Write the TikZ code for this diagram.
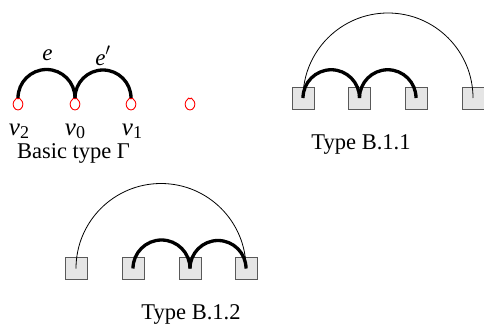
\documentclass[tikz,border=0pt]{standalone}
\usepackage{fontspec}
\setmainfont{Liberation Serif}
\newcommand{\vsub}[1]{\textit{v}\raisebox{-3pt}{\fontsize{18}{20}\selectfont #1}}
\begin{document}
\begin{tikzpicture}[x=1pt,y=1pt,
  box/.style={draw=black!65, fill=black!10, minimum size=22pt, inner sep=0pt, line width=0.8pt},
  heavy/.style={line width=3.3pt},
  light/.style={line width=0.8pt},
  caption/.style={font=\fontsize{22.5}{26}\selectfont, anchor=base, inner sep=0pt},
  mlabel/.style={font=\fontsize{25}{28}\selectfont, anchor=base, inner sep=0pt},
  elabel/.style={font=\fontsize{23}{26}\selectfont, anchor=base, inner sep=0pt},
  redv/.pic={\draw[red, line width=0.9pt, line join=round]
      (0,5) -- (-1.3,6) -- (-4.2,2.6)
      .. controls (-6,-0.5) and (-4,-6) .. (0,-6)
      .. controls (4,-6) and (6,-0.5) .. (4.2,2.6) -- (1.3,6) -- cycle;}]
\useasboundingbox (0,0) rectangle (484,-325);

% basic type: three vertices and a spare one
\foreach \n/\x in {v2/18, v0/75, v1/131, vx/190} {
  \coordinate (\n) at (\x,-104);
  \coordinate (\n-top) at (\x,-98);
  \pic at (\n) {redv};
}
\draw[heavy] (v2-top) arc[start angle=180, end angle=0, radius=28.5pt];
\draw[heavy] (v0-top) arc[start angle=180, end angle=0, radius=28pt];
\node[elabel] (le) at (47.5,-60) {\textit{e}};
\node[elabel] (lep) at (103,-65) {\textit{e}$'$};
\node[mlabel] (lv2) at (19,-135) {\vsub{2}};
\node[mlabel] (lv0) at (75,-135) {\vsub{0}};
\node[mlabel] (lv1) at (132,-135) {\vsub{1}};
\node[caption] (cap0) at (73.5,-158) {Basic type Γ};

% type B.1.1
\node[box] (a1) at (303,-98) {};
\node[box] (a2) at (359.5,-98) {};
\node[box] (a3) at (416,-98) {};
\node[box] (a4) at (473,-98) {};
\draw[heavy] (a1.center) arc[start angle=180, end angle=0, radius=28.25pt];
\draw[heavy] (a2.center) arc[start angle=180, end angle=0, radius=28.25pt];
\draw[light] (a1.center) arc[start angle=180, end angle=0, radius=85pt];
\node[caption] (cap1) at (361,-149) {Type B.1.1};

% type B.1.2
\node[box] (b1) at (76,-268.5) {};
\node[box] (b2) at (133,-268.5) {};
\node[box] (b3) at (190,-268.5) {};
\node[box] (b4) at (246,-268.5) {};
\draw[heavy] (b2.center) arc[start angle=180, end angle=0, radius=28.5pt];
\draw[heavy] (b3.center) arc[start angle=180, end angle=0, radius=28pt];
\draw[light] (b1.center) arc[start angle=180, end angle=0, radius=85pt];
\node[caption] (cap2) at (191,-319) {Type B.1.2};
\end{tikzpicture}
\end{document}
